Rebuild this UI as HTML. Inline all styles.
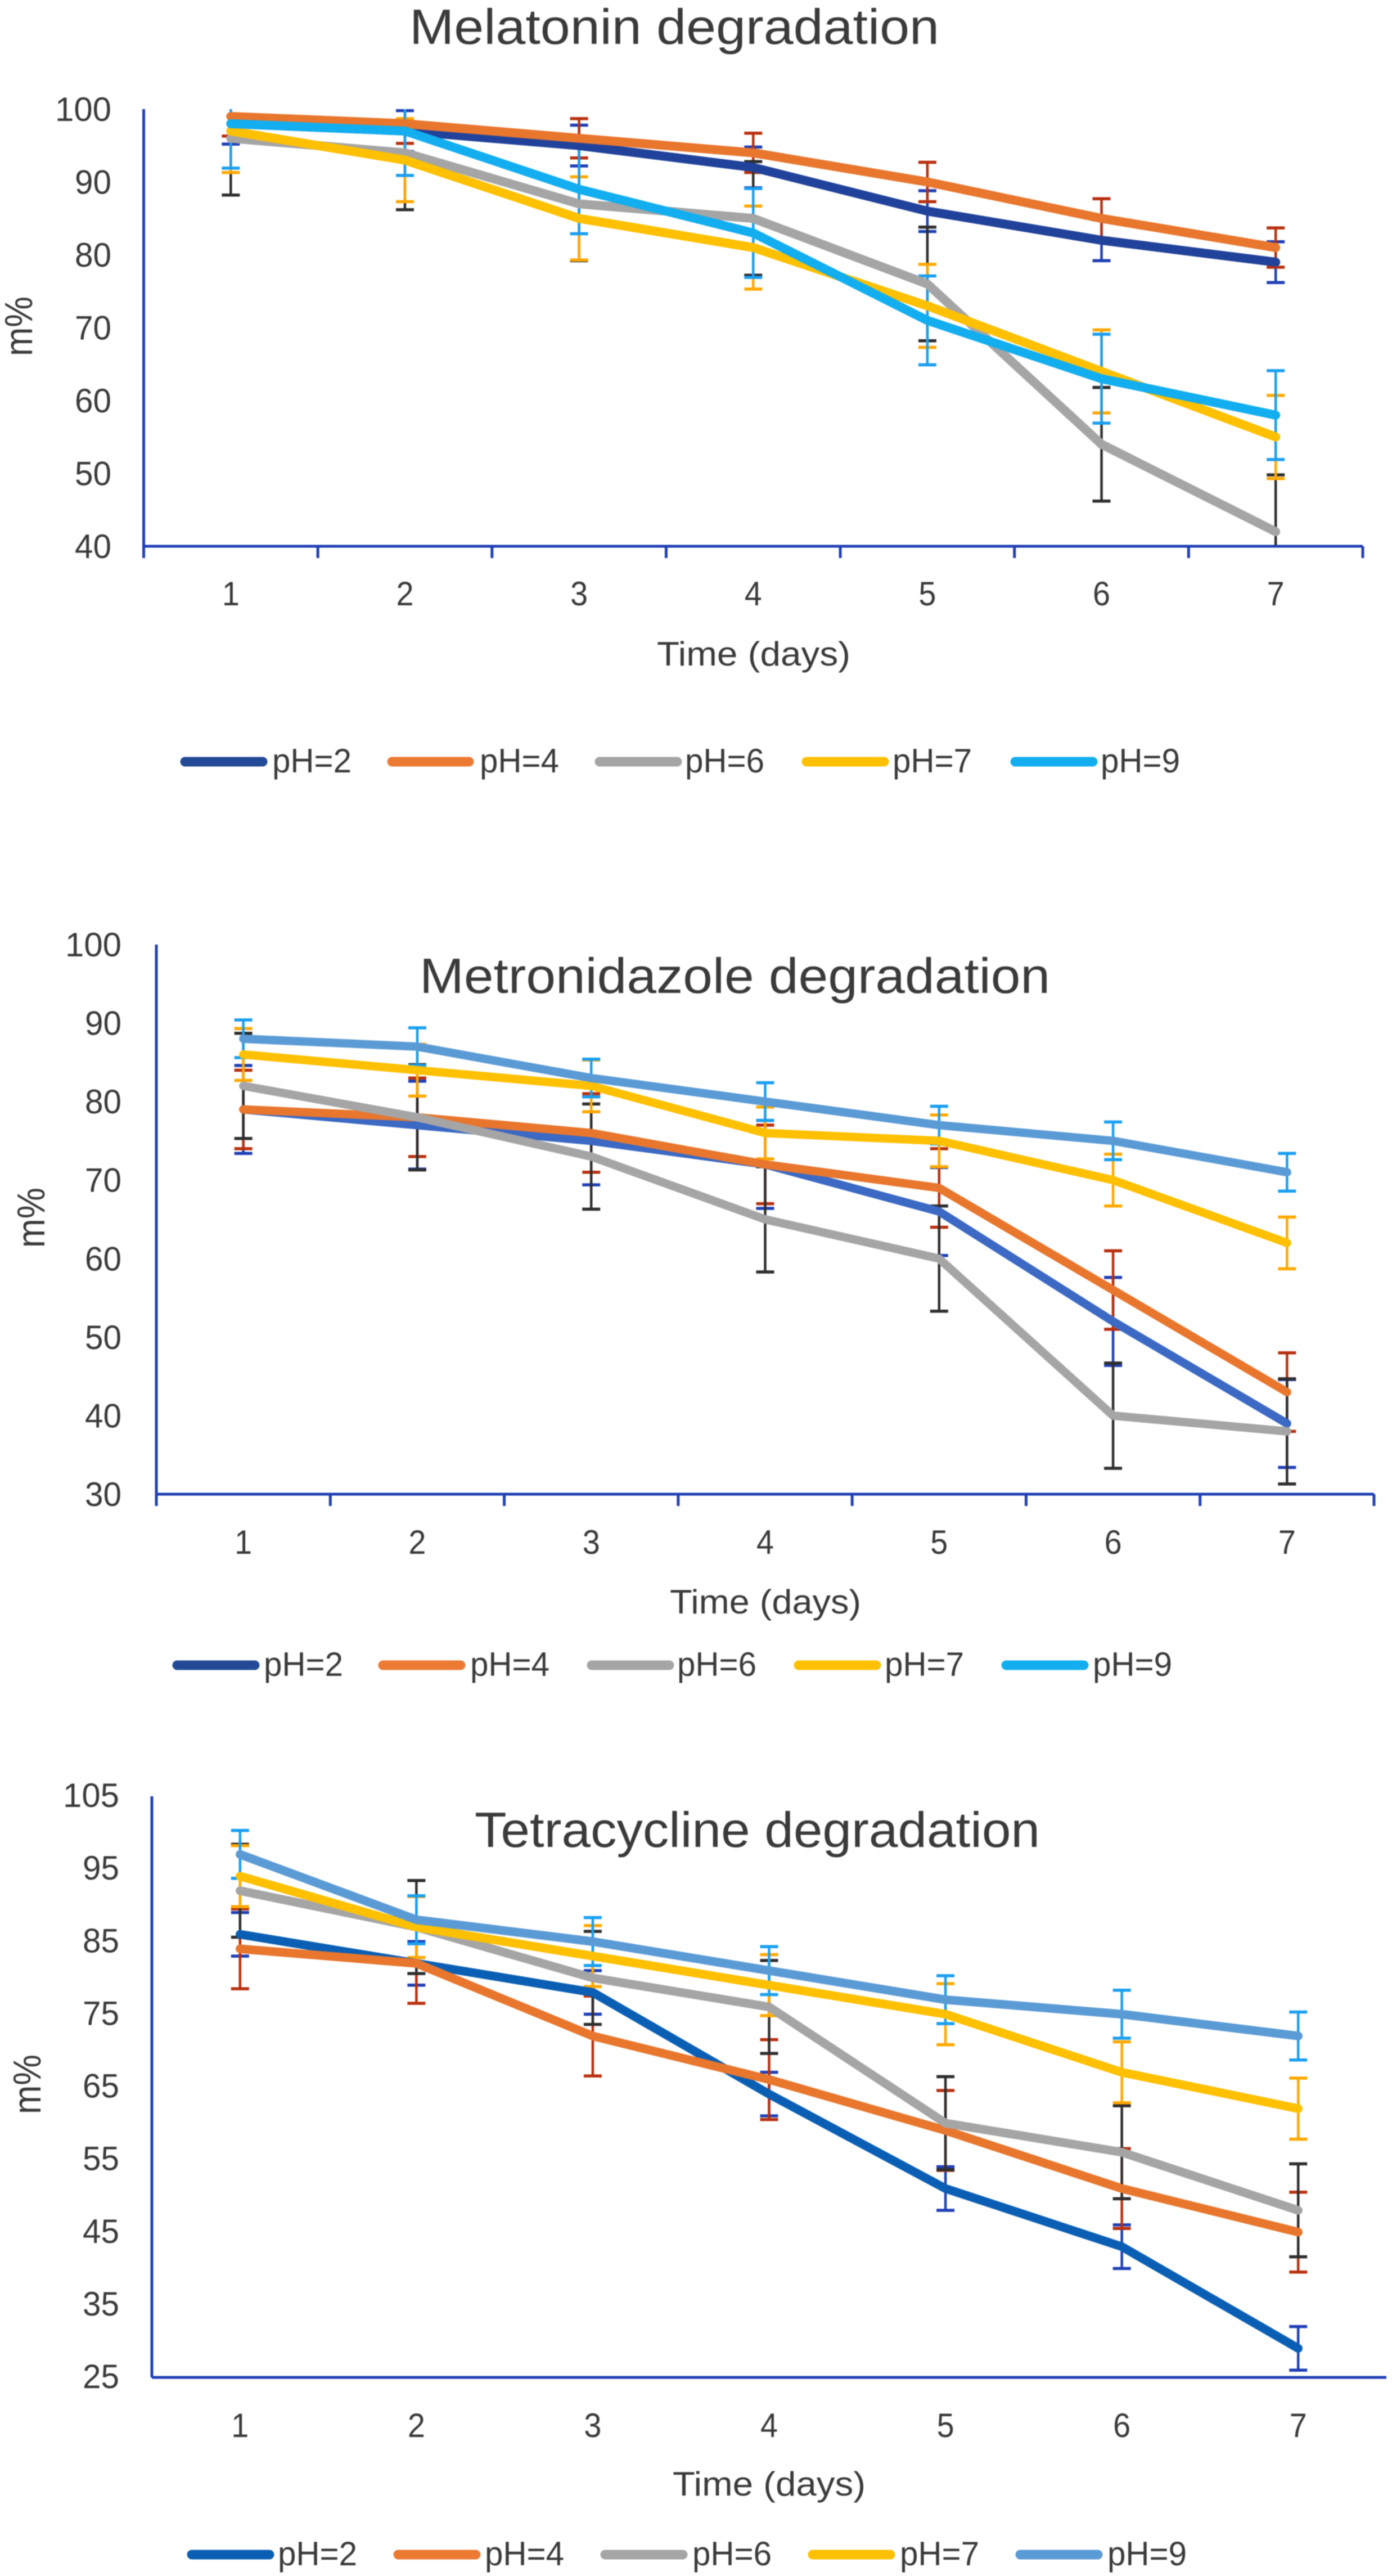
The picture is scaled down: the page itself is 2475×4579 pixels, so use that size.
<!DOCTYPE html>
<html lang="en">
<head>
<meta charset="utf-8">
<title>Degradation charts</title>
<style>
html,body{margin:0;padding:0;background:#fff;}
#figure{display:block;width:2475px;height:4579px;filter:blur(0.9px);}
text{font-family:"Liberation Sans",sans-serif;fill:#3a3a3a;}
</style>
</head>
<body>
<svg id="figure" xmlns="http://www.w3.org/2000/svg" width="2475" height="4579" viewBox="0 0 2475 4579">
<rect width="2475" height="4579" fill="#ffffff"/>

<g id="chart1">
  <text x="728" y="78" font-size="88" textLength="942" lengthAdjust="spacingAndGlyphs">Melatonin degradation</text>
  <text x="1168" y="1183" font-size="60" textLength="344" lengthAdjust="spacingAndGlyphs">Time (days)</text>
  <text transform="translate(57,633) rotate(-90)" font-size="70" textLength="106" lengthAdjust="spacingAndGlyphs">m%</text>
  <g>
    <g><line x1="329" x2="467" y1="1354" y2="1354" stroke="#234a96" stroke-width="17" stroke-linecap="round"/><text x="484" y="1373" font-size="60" textLength="141" lengthAdjust="spacingAndGlyphs">pH=2</text></g>
    <g><line x1="697" x2="834" y1="1354" y2="1354" stroke="#ec7a33" stroke-width="17" stroke-linecap="round"/><text x="853" y="1373" font-size="60" textLength="141" lengthAdjust="spacingAndGlyphs">pH=4</text></g>
    <g><line x1="1066" x2="1204" y1="1354" y2="1354" stroke="#a5a5a5" stroke-width="17" stroke-linecap="round"/><text x="1218" y="1373" font-size="60" textLength="141" lengthAdjust="spacingAndGlyphs">pH=6</text></g>
    <g><line x1="1434" x2="1572" y1="1354" y2="1354" stroke="#ffc000" stroke-width="17" stroke-linecap="round"/><text x="1587" y="1373" font-size="60" textLength="141" lengthAdjust="spacingAndGlyphs">pH=7</text></g>
    <g><line x1="1805" x2="1943" y1="1354" y2="1354" stroke="#12aeef" stroke-width="17" stroke-linecap="round"/><text x="1957" y="1373" font-size="60" textLength="141" lengthAdjust="spacingAndGlyphs">pH=9</text></g>
  </g>
</g>

<g id="chart2">
  <text x="746" y="1765" font-size="88" textLength="1121" lengthAdjust="spacingAndGlyphs">Metronidazole degradation</text>
  <text x="1191" y="2868" font-size="60" textLength="340" lengthAdjust="spacingAndGlyphs">Time (days)</text>
  <text transform="translate(79,2218) rotate(-90)" font-size="70" textLength="107" lengthAdjust="spacingAndGlyphs">m%</text>
  <g>
    <g><line x1="315" x2="453" y1="2960" y2="2960" stroke="#234a96" stroke-width="17" stroke-linecap="round"/><text x="469" y="2979" font-size="60" textLength="141" lengthAdjust="spacingAndGlyphs">pH=2</text></g>
    <g><line x1="681" x2="819" y1="2960" y2="2960" stroke="#ec7a33" stroke-width="17" stroke-linecap="round"/><text x="836" y="2979" font-size="60" textLength="141" lengthAdjust="spacingAndGlyphs">pH=4</text></g>
    <g><line x1="1052" x2="1190" y1="2960" y2="2960" stroke="#a5a5a5" stroke-width="17" stroke-linecap="round"/><text x="1204" y="2979" font-size="60" textLength="141" lengthAdjust="spacingAndGlyphs">pH=6</text></g>
    <g><line x1="1420" x2="1558" y1="2960" y2="2960" stroke="#ffc000" stroke-width="17" stroke-linecap="round"/><text x="1573" y="2979" font-size="60" textLength="141" lengthAdjust="spacingAndGlyphs">pH=7</text></g>
    <g><line x1="1789" x2="1927" y1="2960" y2="2960" stroke="#12aeef" stroke-width="17" stroke-linecap="round"/><text x="1943" y="2979" font-size="60" textLength="141" lengthAdjust="spacingAndGlyphs">pH=9</text></g>
  </g>
</g>

<g id="chart3">
  <text x="844" y="3283" font-size="88" textLength="1005" lengthAdjust="spacingAndGlyphs">Tetracycline degradation</text>
  <text x="1196" y="4436" font-size="60" textLength="343" lengthAdjust="spacingAndGlyphs">Time (days)</text>
  <text transform="translate(72,3758) rotate(-90)" font-size="70" textLength="106" lengthAdjust="spacingAndGlyphs">m%</text>
  <g>
    <g><line x1="341" x2="479" y1="4541" y2="4541" stroke="#0a5fb4" stroke-width="17" stroke-linecap="round"/><text x="494" y="4560" font-size="60" textLength="141" lengthAdjust="spacingAndGlyphs">pH=2</text></g>
    <g><line x1="708" x2="846" y1="4541" y2="4541" stroke="#ec7a33" stroke-width="17" stroke-linecap="round"/><text x="862" y="4560" font-size="60" textLength="141" lengthAdjust="spacingAndGlyphs">pH=4</text></g>
    <g><line x1="1076" x2="1214" y1="4541" y2="4541" stroke="#a5a5a5" stroke-width="17" stroke-linecap="round"/><text x="1231" y="4560" font-size="60" textLength="141" lengthAdjust="spacingAndGlyphs">pH=6</text></g>
    <g><line x1="1445" x2="1583" y1="4541" y2="4541" stroke="#ffc000" stroke-width="17" stroke-linecap="round"/><text x="1600" y="4560" font-size="60" textLength="141" lengthAdjust="spacingAndGlyphs">pH=7</text></g>
    <g><line x1="1814" x2="1952" y1="4541" y2="4541" stroke="#5b9bd5" stroke-width="17" stroke-linecap="round"/><text x="1969" y="4560" font-size="60" textLength="141" lengthAdjust="spacingAndGlyphs">pH=9</text></g>
  </g>
</g>
</svg>

<script>
// Shared categories
const days = ["1", "2", "3", "4", "5", "6", "7"];
const seriesNames = ["ph2", "ph4", "ph6", "ph7", "ph9"];

// Melatonin
const melTicks = [40, 50, 60, 70, 80, 90, 100];
const melPh2 = [98, 97, 95, 92, 86, 82, 79];
const melPh4 = [99, 98, 96, 94, 90, 85, 81];
const melPh6 = [96, 94, 87, 85, 76, 54, 42];
const melPh7 = [97, 93, 85, 81, 73, 64, 55];
const melPh9 = [98, 97, 89, 83, 71, 63, 58];
const melErrPh2 = [2.8, 2.8, 2.8, 2.8, 2.8, 2.8, 2.8];
const melErrPh4 = [2.7, 2.7, 2.7, 2.7, 2.7, 2.7, 2.7];
const melErrPh6 = [7.8, 7.8, 7.8, 7.8, 7.8, 7.8, 7.8];
const melErrPh7 = [5.7, 5.7, 5.7, 5.7, 5.7, 5.7, 5.7];
const melErrPh9 = [6.1, 6.1, 6.1, 6.1, 6.1, 6.1, 6.1];

// Metronidazole
const metTicks = [30, 40, 50, 60, 70, 80, 90, 100];
const metPh2 = [79, 77, 75, 72, 66, 52, 39];
const metPh4 = [79, 78, 76, 72, 69, 56, 43];
const metPh6 = [82, 78, 73, 65, 60, 40, 38];
const metPh7 = [86, 84, 82, 76, 75, 70, 62];
const metPh9 = [88, 87, 83, 80, 77, 75, 71];
const metErrPh2 = [5.6, 5.6, 5.6, 5.6, 5.6, 5.6, 5.6];
const metErrPh4 = [5, 5, 5, 5, 5, 5, 5];
const metErrPh6 = [6.7, 6.7, 6.7, 6.7, 6.7, 6.7, 6.7];
const metErrPh7 = [3.3, 3.3, 3.3, 3.3, 3.3, 3.3, 3.3];
const metErrPh9 = [2.4, 2.4, 2.4, 2.4, 2.4, 2.4, 2.4];

// Tetracycline
const tetTicks = [25, 35, 45, 55, 65, 75, 85, 95, 105];
const tetPh2 = [86, 82, 78, 64, 51, 43, 29];
const tetPh4 = [84, 82, 72, 66, 59, 51, 45];
const tetPh6 = [92, 87, 80, 76, 60, 56, 48];
const tetPh7 = [94, 87, 83, 79, 75, 67, 62];
const tetPh9 = [97, 88, 85, 81, 77, 75, 72];
const tetErrPh2 = [3, 3, 3, 3, 3, 3, 3];
const tetErrPh4 = [5.5, 5.5, 5.5, 5.5, 5.5, 5.5, 5.5];
const tetErrPh6 = [6.4, 6.4, 6.4, 6.4, 6.4, 6.4, 6.4];
const tetErrPh7 = [4.2, 4.2, 4.2, 4.2, 4.2, 4.2, 4.2];
const tetErrPh9 = [3.3, 3.3, 3.3, 3.3, 3.3, 3.3, 3.3];

const SVG_NS = "http://www.w3.org/2000/svg";
const AXIS_COLOR = "#1f3fb5";
const ERROR_COLORS = ["#1f3fb5", "#b8300f", "#2e2e2e", "#ffa800", "#1a9ff0"];

function make(tag, attrs, parent) {
  const el = document.createElementNS(SVG_NS, tag);
  for (const key in attrs) el.setAttribute(key, attrs[key]);
  parent.appendChild(el);
  return el;
}

function drawChart(opts) {
  const root = document.getElementById(opts.id);
  const plot = make("g", {}, root);
  
  

  const ticks = opts.ticks;
  const yMin = ticks[0];
  const yMax = ticks[ticks.length - 1];
  const band = (opts.right - opts.left) / days.length;
  const xScale = i => opts.left + band * (i + 0.5);
  const yScale = v => opts.bottom - (v - yMin) / (yMax - yMin) * (opts.bottom - opts.top);

  const clipId = opts.id + "-clip";
  const defs = make("defs", {}, plot);
  const clip = make("clipPath", { id: clipId }, defs);
  make("rect", { x: opts.left, y: opts.top, width: opts.right - opts.left, height: opts.bottom - opts.top }, clip);

  // Error bars, behind the lines
  const errLayer = make("g", { "clip-path": "url(#" + clipId + ")" }, plot);
  opts.errors.forEach((errs, s) => {
    const group = make("g", { stroke: ERROR_COLORS[s], fill: "none" }, errLayer);
    
    
    errs.forEach((e, i) => {
      const v = opts.series[s][i];
      const x = xScale(i);
      const yHi = yScale(v + e);
      const yLo = yScale(v - e);
      make("line", { x1: x, x2: x, y1: yHi, y2: yLo, "stroke-width": 4.5 }, group);
      make("line", { x1: x - 16, x2: x + 16, y1: yHi, y2: yHi, "stroke-width": 5.5 }, group);
      make("line", { x1: x - 16, x2: x + 16, y1: yLo, y2: yLo, "stroke-width": 5.5 }, group);
    });
  });

  // Series lines
  opts.series.forEach((vals, s) => {
    const points = vals.map((v, i) => xScale(i) + "," + yScale(v)).join(" ");
    const line = make("polyline", {
      points: points,
      fill: "none",
      stroke: opts.colors[s],
      "stroke-width": opts.lineWidth,
      "stroke-linejoin": "round",
      "stroke-linecap": "round"
    }, plot);
    
    
  });

  // Axes
  const yAxis = make("line", { x1: opts.left, x2: opts.left, y1: opts.top, y2: opts.bottom, stroke: AXIS_COLOR, "stroke-width": 5 }, plot);
  
  
  const xAxis = make("line", { x1: opts.left, x2: opts.right, y1: opts.bottom, y2: opts.bottom, stroke: AXIS_COLOR, "stroke-width": 5 }, plot);
  
  

  if (opts.showTicks) {
    for (let i = 0; i <= days.length; i++) {
      const tx = opts.left + band * i;
      const tick = make("line", { x1: tx, x2: tx, y1: opts.bottom, y2: opts.bottom + 21, stroke: AXIS_COLOR, "stroke-width": 5 }, plot);
      
      
    }
  }

  // Y tick labels
  ticks.forEach(t => {
    const label = make("text", {
      x: opts.yLabelRight,
      y: yScale(t) + opts.yLabelOffset,
      "text-anchor": "end",
      "font-size": 60,
      textLength: String(t).length === 3 ? 100 : 65,
      lengthAdjust: "spacingAndGlyphs"
    }, plot);
    label.textContent = String(t);
    
    
  });

  // X tick labels
  days.forEach((d, i) => {
    const label = make("text", {
      x: xScale(i),
      y: opts.xLabelBase,
      "text-anchor": "middle",
      "font-size": 60,
      textLength: 31,
      lengthAdjust: "spacingAndGlyphs"
    }, plot);
    label.textContent = d;
    
    
  });
}

drawChart({
  id: "chart1", left: 255.5, right: 2423, top: 194, bottom: 971,
  yLabelRight: 198, yLabelOffset: 21, xLabelBase: 1076, showTicks: true, ticks: melTicks, lineWidth: 16,
  colors: ["#21429a", "#e8762d", "#a5a5a5", "#ffc000", "#12aeef"],
  series: [melPh2, melPh4, melPh6, melPh7, melPh9],
  errors: [melErrPh2, melErrPh4, melErrPh6, melErrPh7, melErrPh9]
});
drawChart({
  id: "chart2", left: 278, right: 2443, top: 1679, bottom: 2656,
  yLabelRight: 216, yLabelOffset: 21, xLabelBase: 2762, showTicks: true, ticks: metTicks, lineWidth: 15,
  colors: ["#3b69c3", "#e8762d", "#a5a5a5", "#ffc000", "#5b9bd5"],
  series: [metPh2, metPh4, metPh6, metPh7, metPh9],
  errors: [metErrPh2, metErrPh4, metErrPh6, metErrPh7, metErrPh9]
});
drawChart({
  id: "chart3", left: 270, right: 2465, top: 3193, bottom: 4226,
  yLabelRight: 212, yLabelOffset: 19, xLabelBase: 4332, showTicks: false, ticks: tetTicks, lineWidth: 15.5,
  colors: ["#0a5fb4", "#e8762d", "#a5a5a5", "#ffc000", "#5b9bd5"],
  series: [tetPh2, tetPh4, tetPh6, tetPh7, tetPh9],
  errors: [tetErrPh2, tetErrPh4, tetErrPh6, tetErrPh7, tetErrPh9]
});
</script>
</body>
</html>
